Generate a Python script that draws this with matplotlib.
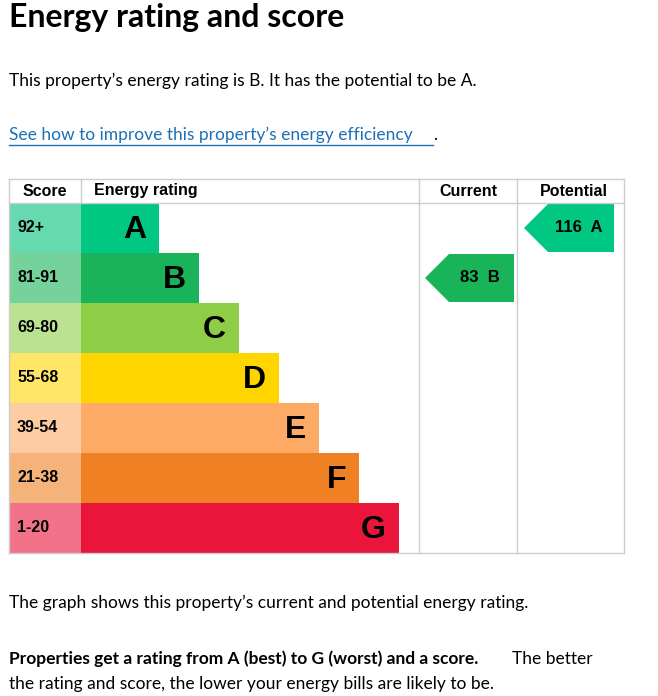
import matplotlib
matplotlib.use("Agg")
import matplotlib.pyplot as plt
from matplotlib.patches import Rectangle, Polygon

bands = ["A", "B", "C", "D", "E", "F", "G"]
score_ranges = ["92+", "81-91", "69-80", "55-68", "39-54", "21-38", "1-20"]
band_colors = ["#00c781", "#19b459", "#8dce46", "#ffd500", "#fcaa65", "#ef8023", "#e9153b"]
score_colors = ["#66d9b0", "#75d29b", "#bbe290", "#ffe666", "#fdcca3", "#f5b37b", "#f27389"]
current_score, current_band = 83, "B"
potential_score, potential_band = 116, "A"

W, H = 658, 696
fig = plt.figure(figsize=(W / 100, H / 100), dpi=100)
ax = fig.add_axes([0, 0, 1, 1])
ax.set_xlim(0, W)
ax.set_ylim(H, 0)
ax.axis("off")

body = "Lato"
ax.text(9, 18, "Energy rating and score", fontsize=23, fontweight="bold", family=body, va="center")
ax.text(9, 81, "This property\u2019s energy rating is B. It has the potential to be A.",
        fontsize=12.5, family=body, va="center")
ax.text(9, 135, "See how to improve this property\u2019s energy efficiency", fontsize=12.5,
        family=body, va="center", color="#1d70b8")
ax.plot([9, 433], [145, 145], color="#1d70b8", lw=1)
ax.text(433, 135, ".", fontsize=12.5, family=body, va="center")

top, head_h, row_h = 179, 24, 50
left, score_w, bar0, step = 9, 72, 78, 40
col_cur, col_pot, right = 419, 517, 624
grid = "#cccccc"
bottom = top + head_h + row_h * len(bands)

# table frame
for x in [left, col_cur, col_pot, right]:
    ax.plot([x, x], [top, bottom], color=grid, lw=1)
ax.plot([left, right], [top, top], color=grid, lw=1)
ax.plot([left, right], [top + head_h, top + head_h], color=grid, lw=1)
ax.plot([left, right], [bottom, bottom], color=grid, lw=1)
ax.plot([81, 81], [top, top + head_h], color=grid, lw=1)

hf = dict(fontsize=11.5, fontweight="bold", family="Liberation Sans", va="center")
ax.text(45, top + 12, "Score", ha="center", **hf)
ax.text(94, top + 12, "Energy rating", ha="left", **hf)
ax.text(468, top + 12, "Current", ha="center", **hf)
ax.text(574, top + 12, "Potential", ha="center", **hf)

for i, (b, s) in enumerate(zip(bands, score_ranges)):
    y0 = top + head_h + i * row_h
    ax.add_patch(Rectangle((left, y0), score_w, row_h, color=score_colors[i], lw=0))
    ax.text(17, y0 + row_h / 2, s, fontsize=11.5, fontweight="bold", family="Liberation Sans", va="center")
    x1 = left + score_w + bar0 + step * i
    ax.add_patch(Rectangle((left + score_w, y0), x1 - left - score_w, row_h, color=band_colors[i], lw=0))
    ax.text(x1 - 13, y0 + row_h / 2 + 2, b, fontsize=23, fontweight="bold", family="Liberation Sans",
            ha="right", va="center")


def arrow(x0, x1, band, score):
    i = bands.index(band)
    y0 = top + head_h + i * row_h + 1
    h = row_h - 2
    ax.add_patch(Polygon([(x0, y0 + h / 2), (x0 + h / 2, y0), (x1, y0), (x1, y0 + h), (x0 + h / 2, y0 + h)],
                         closed=True, color=band_colors[i], lw=0))
    ax.text((x0 + x1) / 2 + 10, y0 + h / 2, f"{score}  {band}", fontsize=12, fontweight="bold",
            family="Liberation Sans", ha="center", va="center")


arrow(425, 514, current_band, current_score)
arrow(524, 614, potential_band, potential_score)

ax.text(9, 603, "The graph shows this property\u2019s current and potential energy rating.",
        fontsize=12.5, family=body, va="center")
ax.text(9, 659, "Properties get a rating from A (best) to G (worst) and a score.", fontsize=12.5,
        fontweight="bold", family=body, va="center")
ax.text(512, 659, "The better", fontsize=12.5, family=body, va="center")
ax.text(9, 684, "the rating and score, the lower your energy bills are likely to be.",
        fontsize=12.5, family=body, va="center")

fig.savefig("out.png", dpi=100)
